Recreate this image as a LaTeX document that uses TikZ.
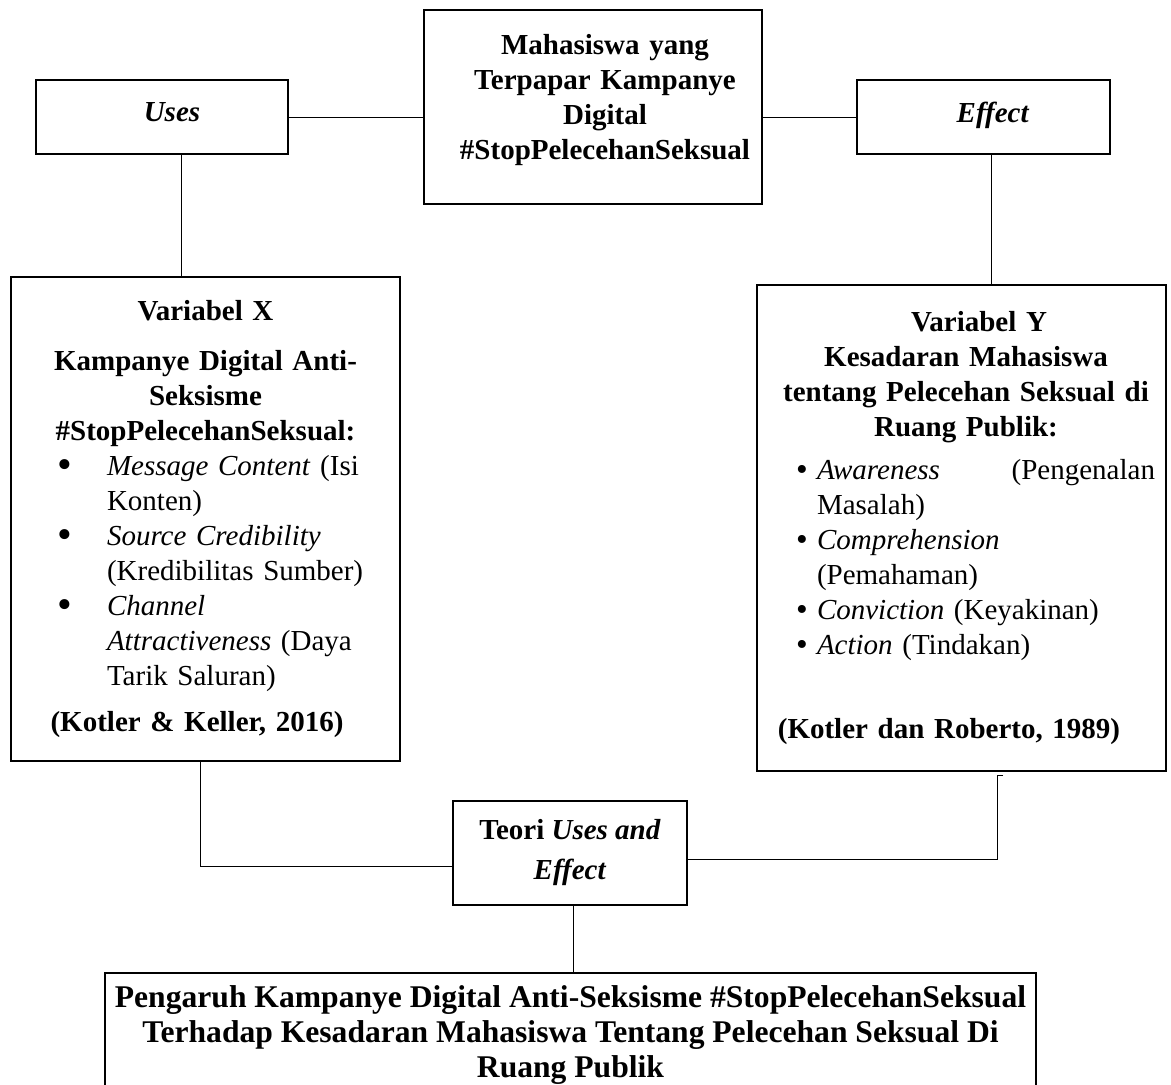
\documentclass[tikz,border=0pt]{standalone}
\usepackage{fontspec}
\usepackage{graphicx}
\setmainfont{Liberation Serif}
\usetikzlibrary{positioning}
\setlength{\parindent}{0pt}
\newcommand{\bigdot}{\raisebox{-0.12em}{\scalebox{1.45}{\textbullet}}}
\newcommand{\middot}{\raisebox{-0.04em}{\scalebox{1.15}{\textbullet}}}
\tikzset{
  box/.style={draw, line width=1pt, inner sep=0pt, font=\fontsize{14.5}{17.5}\selectfont},
  conn/.style={line width=0.5pt},
}
\begin{document}
\begin{tikzpicture}[x=0.5pt, y=-0.5pt]
      \useasboundingbox (0,0) rectangle (1171,1084);
      \clip (0,0) rectangle (1171,1084);
      \node[box, minimum width=126pt, minimum height=37pt] (uses) at (162,117)
        {\hspace*{10pt}\textbf{\textit{Uses}}\rule[-5pt]{0pt}{0pt}};
      \node[box, text width=160pt, minimum width=169pt, minimum height=97pt] (mhs) at (593,107)
        {\centering\leftskip=12pt plus 1fil\bfseries Mahasiswa yang\\ Terpapar Kampanye\\ Digital\\
         \#StopPelecehanSeksual\rule[-10pt]{0pt}{0pt}\par};
      \node[box, minimum width=126.5pt, minimum height=37pt] (effect) at (983.5,117)
        {\hspace*{9.5pt}\textbf{\textit{Effect}}\rule[-5pt]{0pt}{0pt}};
      \node[box, text width=185pt, minimum width=194.5pt, minimum height=242pt] (varX) at (205.5,519)
        {{\centering\bfseries Variabel X\par}\vspace{7.5pt}
         {\centering\bfseries Kampanye Digital Anti-\\ Seksisme\\ \#StopPelecehanSeksual:\par}
         \begin{tabular}[t]{@{\hspace{18.5pt}}p{24.75pt}@{}p{140pt}@{}}
           \bigdot & \textit{Message Content} (Isi\newline Konten)\\
           \bigdot & \textit{Source Credibility}\newline (Kredibilitas Sumber)\\
           \bigdot & \textit{Channel}\newline \textit{Attractiveness} (Daya\newline Tarik Saluran)\\
         \end{tabular}\par\vspace{7pt}
         {\centering\rightskip=8.5pt plus 1fil\bfseries (Kotler \& Keller, 2016)\par}};
      \node[box, text width=195pt, minimum width=204.5pt, minimum height=243pt] (varY) at (961.5,528)
        {{\centering\leftskip=4.5pt plus 1fil\bfseries \hspace*{13pt}Variabel Y\\ Kesadaran Mahasiswa\\
          tentang Pelecehan Seksual di\\ Ruang Publik:\par}\vspace{4pt}
         \begin{tabular}[t]{@{\hspace{14.75pt}}p{10.5pt}@{}p{169pt}@{}}
           \middot & \textit{Awareness}\hfill(Pengenalan\newline Masalah)\\
           \middot & \textit{Comprehension}\newline (Pemahaman)\\
           \middot & \textit{Conviction} (Keyakinan)\\
           \middot & \textit{Action} (Tindakan)\\
         \end{tabular}\par\vspace{25.75pt}
         {\centering\rightskip=12.5pt plus 1fil\bfseries (Kotler dan Roberto, 1989)\par}};
      \node[box, align=center, minimum width=117pt, minimum height=52pt,
        font=\fontsize{14.5}{20}\selectfont\bfseries] (teori) at (570,853)
        {Teori \textit{Uses and}\\ \textit{Effect}};
      \node[box, anchor=north, align=center, minimum width=465.5pt, minimum height=62pt,
        font=\fontsize{15.8}{17.5}\selectfont\bfseries] (hasil) at (570.5,972)
        {Pengaruh Kampanye Digital Anti-Seksisme \#StopPelecehanSeksual\\
         Terhadap Kesadaran Mahasiswa Tentang Pelecehan Seksual Di\\ Ruang Publik};
      \coordinate (usesdrop) at (181,0);
      \coordinate (effdrop) at (991,0);
      \coordinate (xdrop) at (200,866);
      \coordinate (ydrop) at (997,859);
      \coordinate (ytick) at (1003,775);
      \coordinate (tdrop) at (573,0);
      \begin{scope}[conn]
        \draw (uses.east) -- (mhs.west |- uses.east);
        \draw (mhs.east |- effect.west) -- (effect.west);
        \draw (usesdrop |- uses.south) -- (usesdrop |- varX.north);
        \draw (effdrop |- effect.south) -- (effdrop |- varY.north);
        \draw (xdrop |- varX.south) -- (xdrop) -- (xdrop -| teori.west);
        \draw (ytick) -- (ytick -| ydrop) -- (ydrop) -- (ydrop -| teori.east);
        \draw (tdrop |- teori.south) -- (tdrop |- hasil.north);
      \end{scope}
    \end{tikzpicture}
\end{document}
